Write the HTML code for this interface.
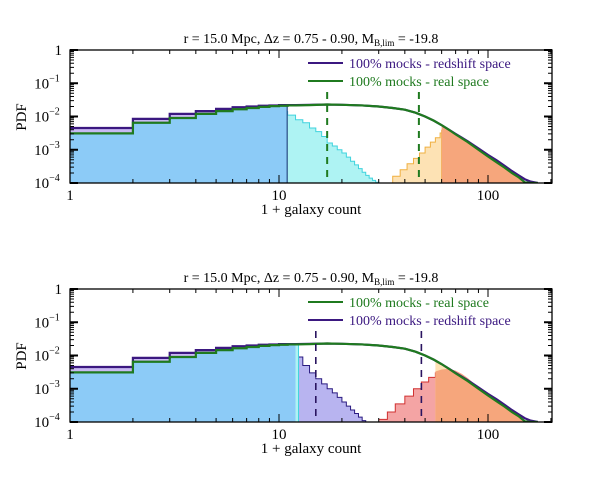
<!DOCTYPE html>
<html><head><meta charset="utf-8"><style>
html,body{margin:0;padding:0;background:#fff;width:600px;height:481px;overflow:hidden}
svg{display:block;font-family:"Liberation Serif",serif}
</style></head><body>
<svg id="chart" width="600" height="481" viewBox="0 0 600 481"></svg>
<script>
// ---- data ----
const xTicks=[1,10,100];
const yTickExp=[0,-1,-2,-3,-4];
const envN=[1,2,3,4,5,6,7,8,9,10,11,12,14,17,20,25,30,35,40,45,50,55,60,65,70,75,80,90,100,110,120,130,140,150,160,173];
const redTop=[4.5e-3,8.5e-3,1.2e-2,1.45e-2,1.7e-2,1.9e-2,2e-2,2.1e-2,2.15e-2,2.2e-2,2.2e-2,2.2e-2,2.25e-2,2.3e-2,2.25e-2,2.15e-2,2e-2,1.8e-2,1.6e-2,1.3e-2,1e-2,7.5e-3,5.5e-3,4e-3,3e-3,2.3e-3,1.8e-3,1.1e-3,7e-4,4.8e-4,3.3e-4,2.3e-4,1.7e-4,1.3e-4,1.1e-4,1e-4];
const realTop=[3.1e-3,6.5e-3,9e-3,1.2e-2,1.45e-2,1.65e-2,1.8e-2,1.95e-2,2.05e-2,2.1e-2,2.15e-2,2.15e-2,2.2e-2,2.3e-2,2.25e-2,2.15e-2,2e-2,1.8e-2,1.6e-2,1.3e-2,1e-2,7.5e-3,5.5e-3,4e-3,2.9e-3,2.2e-3,1.7e-3,1e-3,6.3e-4,4.2e-4,2.9e-4,2e-4,1.5e-4,1.05e-4,1e-4,1e-4];
const cyanN=[10,11,12,13,14,15,16,17,18,19,20,21,22,23,24,25,26,27,28,29,30];
const cyanP=[1.4e-2,1.1e-2,8e-3,6.5e-3,4.5e-3,3.5e-3,2.5e-3,1.6e-3,1.3e-3,1e-3,8e-4,6e-4,4.5e-4,3.5e-4,2.7e-4,2.1e-4,1.7e-4,1.4e-4,1.2e-4,1.05e-4,1e-4];
const lowCutTop=11, highCutTop=60;
const mocN=[32,35,38,41,44,47,50,53,56,59,60];
const mocP=[1e-4,1.6e-4,2.5e-4,3.8e-4,5.5e-4,8e-4,1.2e-3,1.7e-3,2.3e-3,3.2e-3,4e-3];
const dashTop=[17,46.7];
const redBot=redTop, realBot=realTop;
const lowCutBot=12, highCutBot=56;
const cyanBotN=[10,11,12];
const cyanBotP=[2.2e-2,2.2e-2,2.2e-2];
const lavN=[12,13,14,15,16,17,18,19,20,21,22,23,24,25];
const lavP=[9e-3,5e-3,3e-3,2e-3,1.4e-3,1e-3,7.5e-4,5.5e-4,4e-4,3e-4,2.3e-4,1.8e-4,1.4e-4,1.1e-4];
const pinkN=[30,33,36,40,44,48,52,56];
const pinkP=[1.2e-4,2e-4,3.5e-4,6e-4,1e-3,1.6e-3,2.2e-3,3e-3];
const salN=[56,60,65,70,75,80,85,90,100,110,120,130,140,150,160];
const salP=[3.3e-3,3.8e-3,4e-3,3.5e-3,2.8e-3,2.1e-3,1.5e-3,1.1e-3,6.3e-4,4.2e-4,2.9e-4,2e-4,1.5e-4,1.05e-4,1e-4];
const dashBot=[15,48];

// ---- drawing ----
const svg=document.getElementById('chart');
const NS='http://www.w3.org/2000/svg';
const X0=70,X1=552,XD=209;
let cid=0;
function X(n){return X0+XD*Math.log10(n);}
function mk(tag,attrs,parent){const e=document.createElementNS(NS,tag);for(const k in attrs)e.setAttribute(k,attrs[k]);(parent||svg).appendChild(e);return e;}
function lookup(ns,ps,n){let v=ps[0];for(let i=0;i<ns.length;i++)if(ns[i]<n)v=ps[i];return v;}
function panel(top,cfg,pname){
  const Y=p=>top+33.25*(-Math.log10(Math.max(p,1e-4)));
  const bot=top+133;
  const g=mk('g',{});
  
  
  const clip='clip'+top;
  const cp=mk('clipPath',{id:clip},g);mk('rect',{x:X0,y:top,width:X1-X0,height:133},cp);
  const pg=mk('g',{'clip-path':'url(#'+clip+')'},g);
  function shape(ns,ps,endN,smooth){
    let d='';
    for(let i=0;i<ns.length;i++){
      const y=Y(ps[i]);
      if(ns[i]>=smooth){d+=(d?'L':'M')+X(ns[i])+','+y;continue;}
      const b=(i+1<ns.length?ns[i+1]:endN);
      d+=(d?'L':'M')+X(ns[i])+','+y+'L'+X(b)+','+y;
    }
    return d;
  }
  function band(fromN,toN){
    cid++;const id='b'+cid;
    const c=mk('clipPath',{id:id},pg);
    mk('rect',{x:X(fromN),y:top-5,width:X(toN)-X(fromN),height:145},c);
    return mk('g',{'clip-path':'url(#'+id+')'},pg);
  }
  function fill(ns,ps,endN,color,name,fromN,toN,stroke,smooth){
    smooth=smooth||999;
    const s=shape(ns,ps,endN,smooth);
    const last=ns[ns.length-1]>=smooth?ns[ns.length-1]:endN;
    const holder=(fromN!==undefined)?band(fromN,toN):pg;
    const e=mk('path',{d:s+'L'+X(last)+','+bot+'L'+X(ns[0])+','+bot+'Z',fill:color,stroke:'none'},holder);
    
    
    if(stroke){
      let d;
      if(fromN!==undefined){const xe=X(toN)-0.5;d='M'+xe+','+bot+'L'+xe+','+Y(lookup(ns,ps,toN));}
      else d=s+'L'+X(last)+','+bot;
      const l=mk('path',{d:d,fill:'none',stroke:stroke,'stroke-width':1},pg);
      
      }
  }
  fill(envN,cfg.red,200,'#c9b8f2','redshift-fill',1,cfg.lowCut,null,12);
  cfg.fills.forEach(f=>fill(f[0],f[1],f[2],f[3],f[4],f[5],f[6],f[7],f[8]));
  cfg.lines.forEach(s=>{
    const p=mk('path',{d:shape(envN,s[0],envN[envN.length-1],12),fill:'none',stroke:s[1],'stroke-width':2.2},pg);
    
    
  });
  cfg.dash.forEach((n,i)=>{
    const l=mk('line',{x1:X(n),x2:X(n),y1:top+42,y2:bot,stroke:cfg.dashColor,'stroke-width':cfg.dashW,'stroke-dasharray':'7,6'},pg);
    
    
  });
  const fr=mk('rect',{x:X0,y:top,width:X1-X0,height:133,fill:'none',stroke:'#000','stroke-width':1.3},g);
  
  
  for(let d=0;d<3;d++)for(let m=1;m<10;m++){const n=m*Math.pow(10,d);if(n>202)continue;const x=X(n);const L=m==1?8:4;
    mk('line',{x1:x,x2:x,y1:bot,y2:bot-L,stroke:'#000'},g);mk('line',{x1:x,x2:x,y1:top,y2:top+L,stroke:'#000'},g);}
  xTicks.forEach(n=>{const t=mk('text',{x:X(n),y:bot+17,'text-anchor':'middle','font-size':15},g);t.textContent=n;
    
    });
  yTickExp.forEach(e=>{const y=Y(Math.pow(10,e));
    mk('line',{x1:X0,x2:X0+8,y1:y,y2:y,stroke:'#000','stroke-width':2},g);mk('line',{x1:X1,x2:X1-8,y1:y,y2:y,stroke:'#000','stroke-width':2},g);
    if(e>-4)for(let m=2;m<10;m++){const yy=Y(m*Math.pow(10,e-1));mk('line',{x1:X0,x2:X0+4,y1:yy,y2:yy,stroke:'#000'},g);mk('line',{x1:X1,x2:X1-4,y1:yy,y2:yy,stroke:'#000'},g);}
    const t=mk('text',{x:e==0?62:47,y:y+5,'text-anchor':e==0?'end':'middle','font-size':15},g);
    
    
    if(e==0)t.textContent='1';else{t.textContent='10';const s=mk('tspan',{dy:-7,'font-size':10},t);s.textContent='−'+(-e);}
  });
  const yl=mk('text',{x:0,y:0,transform:'translate(26,'+(top+67)+') rotate(-90)','text-anchor':'middle','font-size':15},g);yl.textContent='PDF';
  
  
  const xl=mk('text',{x:311,y:bot+31,'text-anchor':'middle','font-size':15},g);xl.textContent='1 + galaxy count';
  
  
  const tt=mk('text',{x:311,y:top-7,'text-anchor':'middle','font-size':14},g);
  
  
  tt.textContent='r = 15.0 Mpc, Δz = 0.75 - 0.90, M';
  const sb=mk('tspan',{dy:3,'font-size':9},tt);sb.textContent='B,lim';
  const r2=mk('tspan',{dy:-3},tt);r2.textContent=' = -19.8';
  cfg.legend.forEach((L,i)=>{const y=top+13+i*18;
    const ln=mk('line',{x1:308,x2:343,y1:y,y2:y,stroke:L[1],'stroke-width':2},g);
    
    
    const t=mk('text',{x:349,y:y+5,'font-size':14,fill:L[1]},g);t.textContent=L[0];
    
    });
}
panel(50,{red:redTop,lowCut:lowCutTop,dash:dashTop,dashColor:'#1f7a1f',dashW:2,
  fills:[[cyanN,cyanP,31,'#aef3f3','cyan-fill',undefined,undefined,'#3fd3dd'],
         [envN,realTop,200,'#8ccbf7','low-fill',1,lowCutTop,'#14306e',12],
         [mocN,mocP,60,'#fde2b4','rising-fill',undefined,undefined,'#f0b040'],
         [envN,realTop,200,'#f6a67c','high-fill',highCutTop,200,'#b0502a',12]],
  lines:[[redTop,'#3b1880','redshift-line'],[realTop.map((v,i)=>envN[i]>155?1e-5:v),'#1f7a1f','real-line']],
  legend:[['100% mocks - redshift space','#3b1880'],['100% mocks - real space','#1f7a1f']]},'top-panel');
panel(289,{red:redBot,lowCut:lowCutBot,dash:dashBot,dashColor:'#2a1460',dashW:1.6,
  fills:[[lavN,lavP,26,'#b8b4f0','lavender-fill',undefined,undefined,'#2a1a80'],
         [cyanBotN,cyanBotP,12.4,'#aef3f3','cyan-fill',undefined,undefined,'#3fd3dd'],
         [envN,realBot,200,'#8ccbf7','low-fill',1,lowCutBot,null,12],
         [pinkN,pinkP,57,'#f4a4a4','rising-fill',undefined,undefined,'#d03030'],
         [envN,realBot,200,'#fde2b4','mid-fill',56,65,null,12],
         [salN,salP,160,'#f6a67c','high-fill',undefined,undefined,null,1]],
  lines:[[redBot,'#3b1880','redshift-line'],[realBot.map((v,i)=>envN[i]>155?1e-5:v),'#1f7a1f','real-line']],
  legend:[['100% mocks - real space','#1f7a1f'],['100% mocks - redshift space','#3b1880']]},'bottom-panel');
</script>
</body></html>
